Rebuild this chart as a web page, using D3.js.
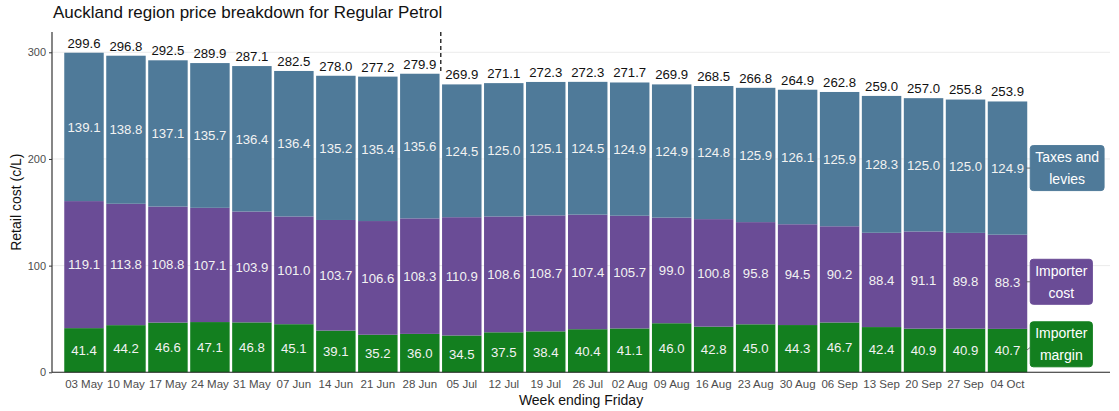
<!DOCTYPE html>
<html>
<head>
<meta charset="utf-8">
<script src="https://cdn.jsdelivr.net/npm/d3@7"></script>
<style>
  html, body { margin: 0; padding: 0; background: #fff; }
  svg { display: block; font-family: "Liberation Sans", Arial, sans-serif; }
</style>
</head>
<body>
<svg id="chart" width="1119" height="411"></svg>
<script>
const weeks = ["03 May","10 May","17 May","24 May","31 May","07 Jun","14 Jun","21 Jun","28 Jun",
  "05 Jul","12 Jul","19 Jul","26 Jul","02 Aug","09 Aug","16 Aug","23 Aug","30 Aug","06 Sep",
  "13 Sep","20 Sep","27 Sep","04 Oct"];
const importerMargin = [41.4,44.2,46.6,47.1,46.8,45.1,39.1,35.2,36.0,34.5,37.5,38.4,40.4,41.1,46.0,42.8,45.0,44.3,46.7,42.4,40.9,40.9,40.7];
const importerCost = [119.1,113.8,108.8,107.1,103.9,101.0,103.7,106.6,108.3,110.9,108.6,108.7,107.4,105.7,99.0,100.8,95.8,94.5,90.2,88.4,91.1,89.8,88.3];
const taxesLevies = [139.1,138.8,137.1,135.7,136.4,136.4,135.2,135.4,135.6,124.5,125.0,125.1,124.5,124.9,124.9,124.8,125.9,126.1,125.9,128.3,125.0,125.0,124.9];
const totals = [299.6,296.8,292.5,289.9,287.1,282.5,278.0,277.2,279.9,269.9,271.1,272.3,272.3,271.7,269.9,268.5,266.8,264.9,262.8,259.0,257.0,255.8,253.9];
const seriesNames = ["Importer margin","Importer cost","Taxes and levies"];
const seriesLines = [["Importer","margin"],["Importer","cost"],["Taxes and","levies"]];
const yTicks = [0,100,200,300];
const dividerAfter = "28 Jun";

const colors = {"Importer margin":"#137F1F","Importer cost":"#6A4C96","Taxes and levies":"#4F7A99"};

const svg = d3.select("#chart");
const panel = {left: 52, right: 1110, top: 32, bottom: 372.3};

const x = d3.scaleBand().domain(weeks).range([63, 1028.5]).paddingInner(0.06).paddingOuter(0.03);
const y = d3.scaleLinear().domain([0, 300]).range([panel.bottom, 52.3]);

const rows = weeks.map((w, i) => ({week: w, "Importer margin": importerMargin[i], "Importer cost": importerCost[i], "Taxes and levies": taxesLevies[i], total: totals[i]}));
const stacked = d3.stack().keys(seriesNames)(rows);

// gridlines
svg.append("g").selectAll("line").data(yTicks.filter(d => d > 0)).join("line")
  .attr("x1", panel.left).attr("x2", panel.right)
  .attr("y1", d => y(d)).attr("y2", d => y(d))
  .attr("stroke", "#EBEBEB").attr("stroke-width", 1);

// dashed divider (above the bars only)
const divIdx = weeks.indexOf(dividerAfter);
const divX = x(dividerAfter) + x.bandwidth() + x.step() * x.paddingInner() / 2;
const divBottom = y(Math.max(totals[divIdx], totals[divIdx + 1]));
svg.append("line")
  .attr("x1", divX).attr("x2", divX).attr("y1", panel.top).attr("y2", divBottom)
  .attr("stroke", "#000").attr("stroke-width", 1.2).attr("stroke-dasharray", "4,3");

// bars
const layers = svg.append("g").selectAll("g").data(stacked).join("g")
  .attr("fill", d => colors[d.key]);
layers.selectAll("rect").data(d => d).join("rect")
  .attr("x", d => x(d.data.week))
  .attr("width", x.bandwidth())
  .attr("y", d => y(d[1]))
  .attr("height", d => y(d[0]) - y(d[1]));

// segment labels
layers.each(function(layer) {
  d3.select(this).selectAll("text").data(layer).join("text")
    .attr("x", d => x(d.data.week) + x.bandwidth() / 2)
    .attr("y", d => y((d[0] + d[1]) / 2))
    .attr("dy", "0.36em")
    .attr("text-anchor", "middle")
    .attr("font-size", 13.2)
    .attr("fill", "#F2F2F2")
    .text(d => d.data[layer.key].toFixed(1));
});

// totals
svg.append("g").selectAll("text").data(rows).join("text")
  .attr("x", d => x(d.week) + x.bandwidth() / 2)
  .attr("y", d => y(d.total) - 5)
  .attr("text-anchor", "middle")
  .attr("font-size", 13.2)
  .attr("fill", "#111")
  .text(d => d.total.toFixed(1));

// axes
svg.append("line").attr("x1", panel.left).attr("x2", panel.left)
  .attr("y1", panel.top).attr("y2", panel.bottom).attr("stroke", "#222").attr("stroke-width", 1.1);
svg.append("line").attr("x1", panel.left).attr("x2", panel.right)
  .attr("y1", panel.bottom).attr("y2", panel.bottom).attr("stroke", "#222").attr("stroke-width", 1.1);

const yAxis = svg.append("g").attr("transform", `translate(${panel.left},0)`)
  .call(d3.axisLeft(y).tickValues(yTicks).tickSize(3).tickPadding(3));
yAxis.select(".domain").remove();
yAxis.selectAll(".tick line").attr("stroke", "#333");
yAxis.selectAll(".tick text").attr("fill", "#4D4D4D").attr("font-size", 11)
  .attr("font-family", "'Liberation Sans', Arial, sans-serif");

const xAxis = svg.append("g").attr("transform", `translate(0,${panel.bottom})`)
  .call(d3.axisBottom(x).tickSize(0).tickPadding(8));
xAxis.select(".domain").remove();
xAxis.selectAll(".tick text").attr("fill", "#4D4D4D").attr("font-size", 11.5)
  .attr("font-family", "'Liberation Sans', Arial, sans-serif");

// titles
svg.append("text").attr("x", 53).attr("y", 18).attr("font-size", 17).attr("fill", "#111")
  .text("Auckland region price breakdown for Regular Petrol");
svg.append("text").attr("x", (panel.left + panel.right) / 2).attr("y", 405)
  .attr("text-anchor", "middle").attr("font-size", 14).attr("fill", "#111")
  .text("Week ending Friday");
svg.append("text")
  .attr("transform", `translate(21,${(panel.top + panel.bottom) / 2}) rotate(-90)`)
  .attr("text-anchor", "middle").attr("font-size", 14).attr("fill", "#111")
  .text("Retail cost (c/L)");

// series labels at the right
const lastWeek = weeks[weeks.length - 1];
const barRight = x(lastWeek) + x.bandwidth();
const lineGap = 22, boxH = 45;
const labelG = svg.append("g");
stacked.forEach((layer, si) => {
  const last = layer[layer.length - 1];
  const midY = y((last[0] + last[1]) / 2);
  const cy = Math.min(midY, panel.bottom - boxH / 2 - 5.5);
  const bx = barRight + 3;
  const g = labelG.append("g");
  const lines = seriesLines[si];
  const texts = g.selectAll("text").data(lines).join("text")
    .attr("x", 0).attr("y", (d, i) => cy + (i - (lines.length - 1) / 2) * lineGap)
    .attr("dy", "0.36em").attr("text-anchor", "middle")
    .attr("font-size", 14).attr("fill", "#fff").text(d => d);
  let maxW = 0;
  texts.each(function() { maxW = Math.max(maxW, this.getComputedTextLength()); });
  const bw = maxW + 10;
  texts.attr("x", bx + bw / 2);
  g.insert("rect", "text")
    .attr("x", bx).attr("y", cy - boxH / 2).attr("width", bw).attr("height", boxH)
    .attr("rx", 3).attr("ry", 3)
    .attr("fill", colors[layer.key]).attr("stroke", colors[layer.key]);
  labelG.append("line").attr("x1", barRight - 1).attr("x2", bx)
    .attr("y1", midY).attr("y2", cy + (midY - cy) * 0.5)
    .attr("stroke", "#555").attr("stroke-width", 0.8);
});
</script>
</body>
</html>
